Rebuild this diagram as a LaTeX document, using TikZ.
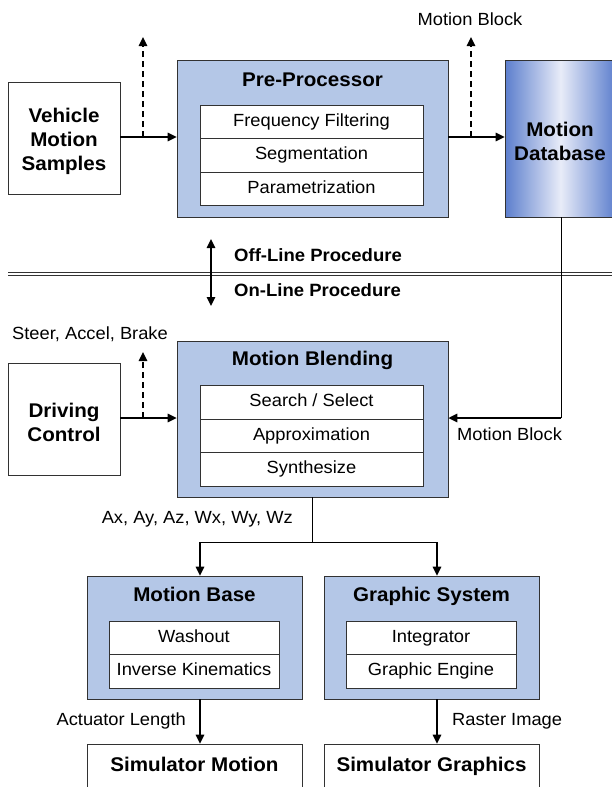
\documentclass[tikz,border=0pt]{standalone}
\usepackage{fontspec}
\setmainfont{Liberation Sans}[FakeStretch=1.04]
\usetikzlibrary{arrows.meta,calc}
\definecolor{boxblue}{RGB}{180,199,231}
\definecolor{bordergray}{RGB}{50,50,50}
\definecolor{dbdark}{RGB}{92,126,205}
\definecolor{dblight}{RGB}{232,236,248}
\newcommand\ttlfont{\fontsize{19.8}{24}\selectfont\bfseries}
\newcommand\normalsz{\fontsize{17.6}{20}\selectfont}
\newcommand\smbold{\fontsize{17.8}{20}\selectfont\bfseries}
\tikzset{
  box/.style={draw=bordergray, line width=0.8pt, inner sep=0pt},
  bluebox/.style={box, fill=boxblue},
  row/.style={draw=bordergray, fill=white, line width=0.8pt, inner sep=0pt, font=\normalsz, text height=0.9em, text depth=0pt},
  ttl/.style={font=\ttlfont, inner sep=0pt, align=center, yshift=-3.5pt},
  ttlone/.style={font=\ttlfont, inner sep=0pt, text height=0.9em, text depth=0pt},
  lbl/.style={font=\normalsz, inner sep=0pt, text height=0.9em, text depth=0pt},
  arr/.style={line width=1.6pt, -{Triangle[length=9pt,width=8.5pt]}},
  darr/.style={arr, dash pattern=on 6pt off 4pt},
  thinln/.style={line width=0.8pt}
}
\begin{document}
\begin{tikzpicture}[x=1pt,y=-1pt]
\useasboundingbox (0,0) rectangle (612,787);
% Top section
\node[box, fill=white, minimum width=112pt, minimum height=112pt] (veh) at (64,138) {};
\node[ttl] (vehT) at (veh.center) {Vehicle\\Motion\\Samples};
\node[bluebox, minimum width=271pt, minimum height=157pt] (pre) at (312.5,138.5) {};
\node[ttlone] (preT) at (312.5,82) {Pre-Processor};
\node[row, minimum width=223pt, minimum height=33pt] (ff) at (311.5,121.5) {Frequency Filtering};
\node[row, minimum width=223pt, minimum height=34pt] (seg) at (311.5,155) {Segmentation};
\node[row, minimum width=223pt, minimum height=33pt] (par) at (311.5,188.5) {Parametrization};
\node[box, minimum width=111pt, minimum height=157pt, left color=dbdark, right color=dbdark, middle color=dblight] (db) at (560.5,138.5) {};
\node[ttl] (dbT) at (560,138) {Motion\\Database};
\coordinate (t1) at (143,37);
\coordinate (t2) at (471,37);
\draw[arr] (veh.east |- 0,137) -- (pre.west |- 0,137);
\draw[darr] (t1 |- 0,137) -- (t1);
\draw[arr] (pre.east |- 0,137) -- (db.west |- 0,137);
\draw[darr] (t2 |- 0,137) -- (t2);
\node[lbl] (mblk1) at (470,21) {Motion Block};
% Divider
\coordinate (dl) at (8,274);
\coordinate (dr) at (620,274);
\draw[thinln, draw=bordergray, double distance=1.6pt] (dl) -- (dr);
\coordinate (u1) at (211,239);
\coordinate (u2) at (211,306);
\draw[line width=1.6pt, {Triangle[length=9pt,width=8.5pt]}-{Triangle[length=9pt,width=8.5pt]}] (u1) -- (u2);
\node[font=\smbold, inner sep=0pt, anchor=west, text height=0.9em, text depth=0pt] (off) at (234,257) {Off-Line Procedure};
\node[font=\smbold, inner sep=0pt, anchor=west, text height=0.9em, text depth=0pt] (on) at (234,292) {On-Line Procedure};
% Middle section
\node[box, fill=white, minimum width=112pt, minimum height=112pt] (drv) at (64,419) {};
\node[ttl] (drvT) at (drv.center) {Driving\\Control};
\node[lbl] (steer) at (90,335) {Steer, Accel, Brake};
\node[bluebox, minimum width=271pt, minimum height=156pt] (mb) at (312.5,419) {};
\node[ttlone] (mbT) at (312.5,361) {Motion Blending};
\node[row, minimum width=223pt, minimum height=34pt] (ss) at (311.5,402) {Search / Select};
\node[row, minimum width=223pt, minimum height=33pt] (ap) at (311.5,435.5) {Approximation};
\node[row, minimum width=223pt, minimum height=34pt] (sy) at (311.5,469) {Synthesize};
\coordinate (t3) at (143,352);
\draw[arr] (drv.east |- 0,418) -- (mb.west |- 0,418);
\draw[darr] (t3 |- 0,418) -- (t3);
\coordinate (k) at (561,418);
\draw[thinln] (db.south -| k) -- (k);
\draw[arr] (k) -- (mb.east |- k);
\node[lbl, anchor=west] (mblk2) at (457,436) {Motion Block};
% Bottom section
\node[bluebox, minimum width=215pt, minimum height=123pt] (mbase) at (194.5,637.5) {};
\node[ttlone] (mbaseT) at (194.5,597) {Motion Base};
\node[row, minimum width=170pt, minimum height=33pt] (wo) at (194,637.5) {Washout};
\node[row, minimum width=170pt, minimum height=34pt] (ik) at (194,671) {Inverse Kinematics};
\node[bluebox, minimum width=215pt, minimum height=123pt] (gs) at (431.5,637.5) {};
\node[ttlone] (gsT) at (431.5,597) {Graphic System};
\node[row, minimum width=170pt, minimum height=33pt] (ig) at (431,637.5) {Integrator};
\node[row, minimum width=170pt, minimum height=34pt] (ge) at (431,671) {Graphic Engine};
\coordinate (s) at (312,542);
\coordinate (sl) at (200,542);
\coordinate (sr) at (437,542);
\draw[thinln] (mb.south -| s) -- (s);
\draw[thinln] (sl) -- (sr);
\draw[arr] (sl) -- (sl |- mbase.north);
\draw[arr] (sr) -- (sr |- gs.north);
\node[lbl, anchor=east] (axl) at (293,519) {Ax, Ay, Az, Wx, Wy, Wz};
\node[box, fill=white, minimum width=215pt, minimum height=60pt] (sm) at (194.5,774) {};
\node[ttlone] (smT) at (194.5,767) {Simulator Motion};
\node[box, fill=white, minimum width=215pt, minimum height=60pt] (sg) at (431.5,774) {};
\node[ttlone] (sgT) at (431.5,767) {Simulator Graphics};
\draw[arr] (mbase.south -| sl) -- (sm.north -| sl);
\draw[arr] (gs.south -| sr) -- (sg.north -| sr);
\node[lbl, anchor=east] (act) at (186,721) {Actuator Length};
\node[lbl, anchor=west] (ras) at (452,721) {Raster Image};
\end{tikzpicture}
\end{document}
